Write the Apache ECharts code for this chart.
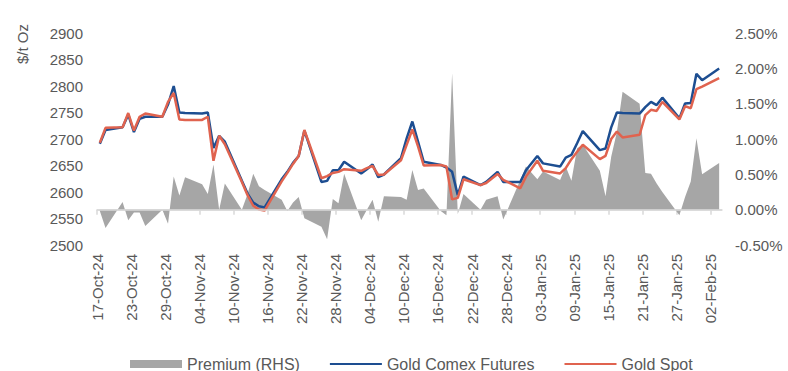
<!DOCTYPE html>
<html>
<head>
<meta charset="utf-8">
<script src="https://cdn.jsdelivr.net/npm/echarts@6/dist/echarts.min.js"></script>
<style>
  html, body { margin: 0; padding: 0; background: #fff; }
  #chart { width: 788px; height: 371px; }
</style>
</head>
<body>
<div id="chart"></div>
<script>
const dates = [
  '2024-10-17', '2024-10-18', '2024-10-21', '2024-10-22', '2024-10-23', '2024-10-24', '2024-10-25',
  '2024-10-28', '2024-10-29', '2024-10-30', '2024-10-31', '2024-11-01',
  '2024-11-04', '2024-11-05', '2024-11-06', '2024-11-07', '2024-11-08',
  '2024-11-11', '2024-11-12', '2024-11-13', '2024-11-14', '2024-11-15',
  '2024-11-18', '2024-11-19', '2024-11-20', '2024-11-21', '2024-11-22',
  '2024-11-25', '2024-11-26', '2024-11-27', '2024-11-28', '2024-11-29',
  '2024-12-02', '2024-12-03', '2024-12-04', '2024-12-05', '2024-12-06',
  '2024-12-09', '2024-12-10', '2024-12-11', '2024-12-12', '2024-12-13',
  '2024-12-16', '2024-12-17', '2024-12-18', '2024-12-19', '2024-12-20',
  '2024-12-23', '2024-12-24', '2024-12-26', '2024-12-27',
  '2024-12-30', '2024-12-31', '2025-01-02', '2025-01-03',
  '2025-01-06', '2025-01-07', '2025-01-08', '2025-01-09', '2025-01-10',
  '2025-01-13', '2025-01-14', '2025-01-15', '2025-01-16', '2025-01-17',
  '2025-01-20', '2025-01-21', '2025-01-22', '2025-01-23', '2025-01-24',
  '2025-01-27', '2025-01-28', '2025-01-29', '2025-01-30', '2025-01-31',
  '2025-02-03'
];

const futures = [
  2691, 2717, 2722, 2746, 2713, 2738, 2742,
  2742, 2765, 2800, 2750, 2749,
  2748, 2750, 2683, 2706, 2695,
  2621, 2597, 2580, 2573, 2571,
  2624, 2638, 2655, 2668, 2716,
  2619, 2621, 2641, 2641, 2657,
  2635, 2643, 2652, 2628, 2633,
  2664, 2701, 2733, 2695, 2657,
  2651, 2646, 2638, 2594, 2629,
  2613, 2619, 2638, 2619,
  2619, 2641, 2668, 2654,
  2648, 2665, 2670, 2692, 2715,
  2679, 2682, 2722, 2750, 2749,
  2748, 2760, 2770, 2764, 2778,
  2739, 2767, 2768, 2823, 2811,
  2833
];

const spot = [
  2693, 2721, 2722, 2749, 2716, 2742, 2748,
  2742, 2770, 2787, 2737, 2736,
  2736, 2742, 2659, 2706, 2690,
  2619, 2594, 2574, 2567, 2565,
  2620, 2636, 2653, 2668, 2717,
  2626, 2630, 2636, 2638, 2643,
  2640, 2645, 2649, 2632, 2633,
  2660, 2689, 2718, 2686, 2650,
  2651, 2648, 2586, 2589, 2624,
  2613, 2617, 2634, 2623,
  2607, 2629, 2659, 2640,
  2635, 2645, 2662, 2676, 2689,
  2662, 2668, 2700, 2714, 2703,
  2708, 2745, 2755, 2753, 2770,
  2737, 2762, 2758, 2794, 2799,
  2815
];

// premium of futures over spot, in %
const premium = [
  -0.02, -0.26, 0.11, -0.15, -0.04, -0.04, -0.23,
  0.00, -0.20, 0.47, 0.20, 0.46,
  0.36, 0.22, 0.64, 0.00, 0.37,
  0.00, 0.22, 0.51, 0.33, 0.28,
  0.14, -0.02, 0.10, 0.18, -0.12,
  -0.24, -0.42, 0.15, 0.09, 0.51,
  -0.15, 0.00, 0.14, -0.17, 0.19,
  0.18, 0.14, 0.56, 0.28, 0.30,
  -0.02, -0.08, 1.93, -0.06, 0.22,
  0.00, 0.14, 0.19, -0.14,
  0.42, 0.61, 0.43, 0.54,
  0.42, 0.61, 0.41, 0.87, 0.92,
  0.55, 0.19, 0.75, 1.10, 1.67,
  1.50, 0.52, 0.51, 0.37, 0.25,
  -0.08, 0.18, 0.40, 1.01, 0.50,
  0.66
];

const tickLabels = [
  '17-Oct-24', '23-Oct-24', '29-Oct-24', '04-Nov-24', '10-Nov-24', '16-Nov-24', '22-Nov-24',
  '28-Nov-24', '04-Dec-24', '10-Dec-24', '16-Dec-24', '22-Dec-24', '28-Dec-24', '03-Jan-25',
  '09-Jan-25', '15-Jan-25', '21-Jan-25', '27-Jan-25', '02-Feb-25'
];
const tickStep = 6;
const seriesNames = ['Premium (RHS)', 'Gold Comex Futures', 'Gold Spot'];

const t0 = Date.parse(dates[0]);
// each day sits in the middle of its slot, like an Excel date axis
const dayPos = dates.map(d => (Date.parse(d) - t0) / 86400000 + 0.5);
const tickDays = tickLabels.map((_, i) => i * tickStep);
const pairs = arr => arr.map((v, i) => [dayPos[i], v]);

const textColor = '#595959';
const font = 'Liberation Sans, Arial, sans-serif';

const chart = echarts.init(document.getElementById('chart'), null, { renderer: 'svg' });
chart.setOption({
  animation: false,
  backgroundColor: '#fff',
  textStyle: { fontFamily: font },
  grid: { left: 97, right: 66, top: 33, bottom: 126 },
  legend: {
    left: 125,
    top: 351,
    itemGap: 29,
    itemWidth: 52,
    itemHeight: 8,
    textStyle: { color: textColor, fontSize: 16, fontFamily: font },
    data: [
      { name: seriesNames[0], icon: 'rect' },
      { name: seriesNames[1], itemStyle: { opacity: 0 } },
      { name: seriesNames[2], itemStyle: { opacity: 0 } }
    ]
  },
  xAxis: {
    type: 'value',
    min: 0,
    max: 110,
    axisLine: { show: true, lineStyle: { color: '#d9d9d9', width: 1.5 } },
    axisTick: { show: true, length: 5, lineStyle: { color: '#d9d9d9', width: 1.5 }, customValues: tickDays },
    splitLine: { show: false },
    axisLabel: {
      rotate: 90,
      margin: 9,
      color: textColor,
      fontSize: 15,
      customValues: tickDays,
      formatter: v => tickLabels[Math.round(v / tickStep)] || ''
    }
  },
  yAxis: [
    {
      type: 'value',
      min: 2500,
      max: 2900,
      interval: 50,
      axisLine: { show: false },
      axisTick: { show: false },
      splitLine: { show: false },
      axisLabel: { color: textColor, fontSize: 15, margin: 14, formatter: v => String(v) }
    },
    {
      type: 'value',
      min: -0.5,
      max: 2.5,
      interval: 0.5,
      position: 'right',
      axisLine: { show: false },
      axisTick: { show: false },
      splitLine: { show: false },
      axisLabel: { color: textColor, fontSize: 15, margin: 13, formatter: v => v.toFixed(2) + '%' }
    }
  ],
  graphic: [{
    type: 'text',
    x: 22,
    y: 44,
    rotation: Math.PI / 2,
    style: {
      text: '$/t Oz',
      fill: textColor,
      font: '15px ' + font,
      textAlign: 'center',
      textVerticalAlign: 'middle'
    }
  }],
  series: [
    {
      name: seriesNames[0],
      type: 'line',
      yAxisIndex: 1,
      data: pairs(premium),
      symbol: 'none',
      itemStyle: { color: '#a6a6a6' },
      lineStyle: { width: 0 },
      areaStyle: { color: '#a6a6a6', opacity: 1 },
      markLine: {
        silent: true,
        symbol: 'none',
        label: { show: false },
        lineStyle: { color: '#d9d9d9', width: 1.5, type: 'solid' },
        data: [{ yAxis: 0 }]
      },
      z: 1
    },
    {
      name: seriesNames[1],
      type: 'line',
      data: pairs(futures),
      symbol: 'none',
      itemStyle: { color: '#1d4e91' },
      lineStyle: { width: 2.5, color: '#1d4e91' },
      z: 2
    },
    {
      name: seriesNames[2],
      type: 'line',
      data: pairs(spot),
      symbol: 'none',
      itemStyle: { color: '#e0634f' },
      lineStyle: { width: 2.5, color: '#e0634f' },
      z: 3
    }
  ]
});
</script>
</body>
</html>
